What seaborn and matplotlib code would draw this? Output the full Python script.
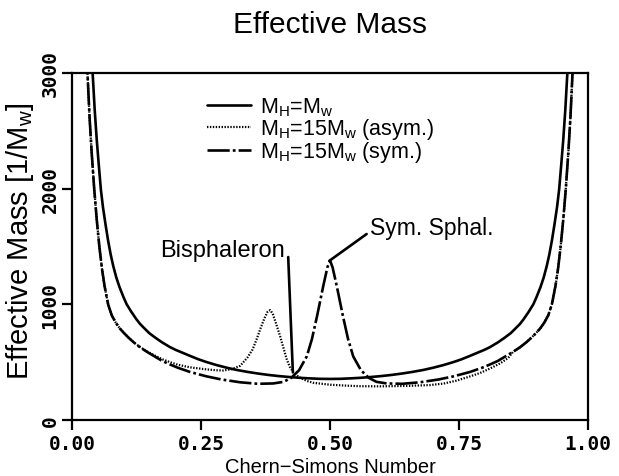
import numpy as np
import pandas as pd
import matplotlib
matplotlib.use("Agg")
import matplotlib.pyplot as plt
import seaborn as sns

# ---- data -------------------------------------------------------------
# M_H = M_W (symmetric about 0.5)
solid_cs = [0.036, 0.040, 0.044, 0.048, 0.052, 0.056, 0.060, 0.065, 0.070, 0.075,
            0.080, 0.086, 0.092, 0.100, 0.106, 0.115, 0.125, 0.132, 0.142, 0.150,
            0.162, 0.175, 0.190, 0.200, 0.215, 0.230, 0.245, 0.260, 0.280, 0.300,
            0.320, 0.340, 0.360, 0.380, 0.400, 0.420, 0.440, 0.460, 0.480, 0.500,
            0.520, 0.540, 0.560, 0.580, 0.600, 0.620, 0.640, 0.660, 0.680, 0.700,
            0.720, 0.740, 0.755, 0.770, 0.785, 0.800, 0.810, 0.825, 0.838, 0.850,
            0.858, 0.868, 0.875, 0.885, 0.894, 0.900, 0.908, 0.914, 0.920, 0.925,
            0.930, 0.935, 0.940, 0.944, 0.948, 0.952, 0.956, 0.960, 0.964]
solid_val = [3400, 3000, 2680, 2420, 2200, 1990, 1840, 1690, 1550, 1430,
             1330, 1230, 1150, 1060, 1000, 935, 870, 830, 785, 750,
             710, 670, 630, 608, 580, 552, 525, 502, 475, 452,
             432, 416, 402, 390, 380, 372, 365, 360, 356, 355,
             356, 360, 365, 372, 380, 390, 402, 416, 432, 452,
             475, 502, 525, 552, 580, 608, 630, 670, 710, 750,
             785, 830, 870, 935, 1000, 1060, 1150, 1230, 1330, 1430,
             1550, 1690, 1840, 1990, 2200, 2420, 2680, 3000, 3400]

# M_H = 15 M_W (sym.)
sym_cs = [0.026, 0.030, 0.034, 0.038, 0.043, 0.048, 0.053, 0.058, 0.063, 0.070,
          0.077, 0.085, 0.093, 0.100, 0.110, 0.120, 0.132, 0.145, 0.160, 0.175,
          0.190, 0.205, 0.229, 0.260, 0.290, 0.326, 0.360, 0.390, 0.410, 0.425,
          0.440, 0.455, 0.465, 0.475, 0.487, 0.495, 0.500,
          0.505, 0.513, 0.525, 0.535, 0.545, 0.560, 0.575, 0.590, 0.610, 0.640,
          0.674, 0.710, 0.740, 0.771, 0.795, 0.810, 0.825, 0.840, 0.855, 0.868,
          0.880, 0.890, 0.900, 0.907, 0.915, 0.923, 0.930, 0.937, 0.942, 0.947,
          0.952, 0.957, 0.962, 0.966, 0.970, 0.974]
sym_val = [3450, 3000, 2620, 2320, 2000, 1730, 1500, 1310, 1160, 1000,
           905, 840, 790, 755, 710, 670, 628, 590, 550, 510,
           480, 452, 415, 378, 350, 326, 313, 316, 330, 365,
           430, 550, 700, 900, 1160, 1320, 1380,
           1320, 1160, 900, 700, 550, 430, 365, 330, 316, 313,
           326, 350, 378, 415, 452, 480, 510, 550, 590, 628,
           670, 710, 755, 790, 840, 905, 1000, 1160, 1310, 1500,
           1730, 2000, 2320, 2620, 3000, 3450]

# M_H = 15 M_W (asym.)
asym_cs = [0.026, 0.030, 0.034, 0.038, 0.043, 0.048, 0.053, 0.058, 0.063, 0.070,
           0.077, 0.085, 0.093, 0.100, 0.110, 0.120, 0.132, 0.145, 0.160, 0.175,
           0.190, 0.205, 0.229, 0.260, 0.280, 0.293, 0.310, 0.326, 0.340, 0.350,
           0.358, 0.366, 0.373, 0.379, 0.384, 0.389, 0.395, 0.403, 0.410, 0.416,
           0.422, 0.429, 0.440, 0.455, 0.467, 0.500, 0.532, 0.560, 0.597, 0.650,
           0.694, 0.720, 0.745, 0.770, 0.790, 0.810, 0.830, 0.845, 0.855, 0.868,
           0.880, 0.890, 0.900, 0.907, 0.915, 0.923, 0.930, 0.937, 0.942, 0.947,
           0.952, 0.957, 0.962, 0.966, 0.970, 0.974]
asym_val = [3450, 3000, 2620, 2320, 2000, 1730, 1500, 1310, 1160, 1000,
            905, 840, 790, 755, 710, 670, 630, 594, 558, 525,
            500, 478, 455, 438, 430, 428, 440, 469, 540, 610,
            700, 800, 880, 935, 950, 920, 840, 729, 620, 527,
            460, 412, 370, 338, 322, 305, 297, 292, 291, 295,
            302, 315, 340, 375, 405, 445, 490, 535, 590, 628,
            670, 710, 755, 790, 840, 905, 1000, 1160, 1310, 1500,
            1730, 2000, 2320, 2620, 3000, 3450]

labels = [r"M$_\mathrm{H}$=M$_\mathrm{w}$",
          r"M$_\mathrm{H}$=15M$_\mathrm{w}$ (asym.)",
          r"M$_\mathrm{H}$=15M$_\mathrm{w}$ (sym.)"]
x_ticks = [0.0, 0.25, 0.5, 0.75, 1.0]
x_ticklabels = ["0.00", "0.25", "0.50", "0.75", "1.00"]
y_ticks = [0, 1000, 2000, 3000]
y_ticklabels = ["0", "1000", "2000", "3000"]

# ---- style ---------------------------------------------------------------
sns.set_theme(style="ticks")
plt.rcParams["font.family"] = ["Liberation Sans", "DejaVu Sans"]
plt.rcParams["mathtext.fontset"] = "custom"
plt.rcParams["mathtext.rm"] = "Liberation Sans"
plt.rcParams["mathtext.it"] = "Liberation Sans:italic"
plt.rcParams["mathtext.bf"] = "Liberation Sans:bold"
plt.rcParams["lines.scale_dashes"] = False
plt.rcParams["axes.linewidth"] = 1.6

fig = plt.figure(figsize=(6.19, 4.77), dpi=100)
fig.patch.set_facecolor("white")
ax = fig.add_axes([72 / 619, 1 - 421 / 477, (588 - 72) / 619, (421 - 74) / 477])
ax.set_facecolor("white")

df_s = pd.DataFrame({"cs": solid_cs, "m": solid_val})
df_a = pd.DataFrame({"cs": asym_cs, "m": asym_val})
df_y = pd.DataFrame({"cs": sym_cs, "m": sym_val})

sns.lineplot(data=df_s, x="cs", y="m", ax=ax, color="black", lw=1.9,
             estimator=None, sort=False, label=labels[0])
sns.lineplot(data=df_a, x="cs", y="m", ax=ax, color="black", lw=1.6,
             ls=(0, (1.0, 1.1)), estimator=None, sort=False, label=labels[1])
sns.lineplot(data=df_y, x="cs", y="m", ax=ax, color="black", lw=1.9,
             ls=(0, (16, 2.2, 2.0, 2.2)), estimator=None, sort=False,
             label=labels[2])

ax.set_xlim(0, 1)
ax.set_ylim(0, 3000)
ax.set_xticks(x_ticks)
ax.set_xticklabels(x_ticklabels)
ax.set_yticks(y_ticks)
ax.set_yticklabels(y_ticklabels, rotation=90, va="center")
ax.tick_params(axis="both", direction="out", length=7, width=1.6, colors="black")
ax.tick_params(axis="x", pad=3)
ax.tick_params(axis="y", pad=2)
for lab in ax.get_xticklabels() + ax.get_yticklabels():
    lab.set_fontfamily("DejaVu Sans Mono")
    lab.set_fontweight("bold")
    lab.set_fontsize(14)
    lab.set_color("black")
for sp in ax.spines.values():
    sp.set_visible(True)
    sp.set_color("black")
    sp.set_linewidth(1.6)

ax.set_xlabel("Chern\u2212Simons Number", fontsize=14.5, color="black", labelpad=3)
ax.set_ylabel(r"Effective Mass [1/M$_\mathrm{w}$]", fontsize=21, color="black")
ax.yaxis.set_label_coords(-0.069, 0.52)

fig.text(0.533, 1 - 33 / 477, "Effective Mass", ha="center", va="baseline",
         fontsize=21.5, color="black")

# annotations
ax.plot([0.419, 0.428], [1409, 412], color="black", lw=1.9)
ax.text(0.413, 1470, "Bisphaleron", ha="right", va="center", fontsize=17,
        color="black")
ax.plot([0.571, 0.499], [1608, 1377], color="black", lw=1.9)
ax.text(0.578, 1665, "Sym. Sphal.", ha="left", va="center", fontsize=16.5,
        color="black")

leg = ax.legend(loc="upper left", bbox_to_anchor=(0.262, 0.936), frameon=False,
                fontsize=15.5, handlelength=2.05, handletextpad=0.4,
                labelspacing=-0.08, borderpad=0.0, borderaxespad=0.0)
for t in leg.get_texts():
    t.set_color("black")

fig.savefig("out.png", dpi=100, facecolor="white")
